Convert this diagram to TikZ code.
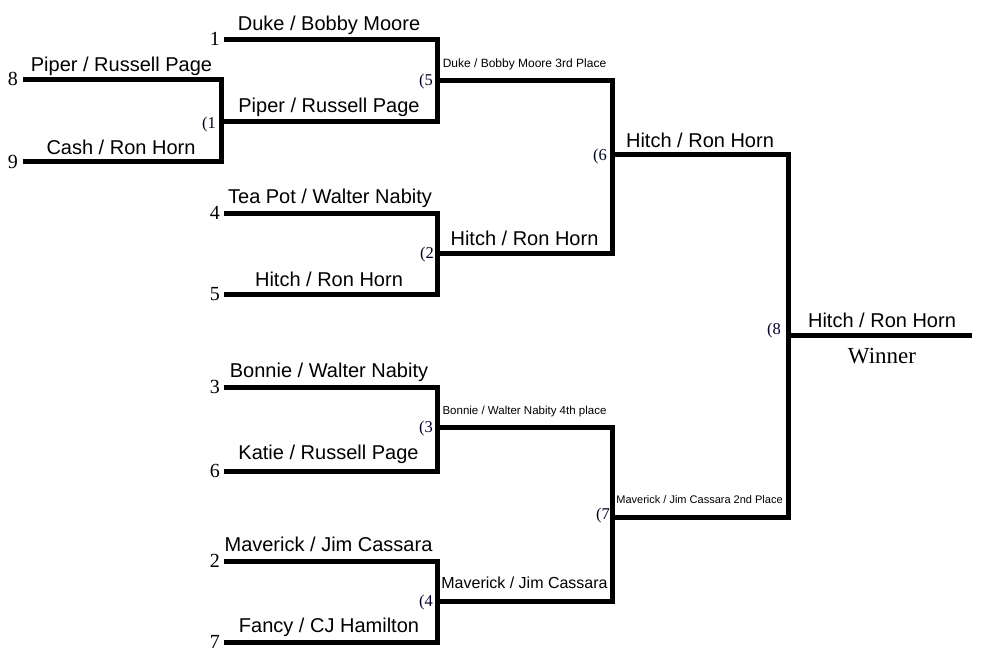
\documentclass[tikz,border=0pt]{standalone}
\usepackage{fontspec}
\setmainfont{Liberation Serif}
\newfontfamily\arialf{Liberation Sans}
\tikzset{
  br/.style={line width=5pt, line join=miter, line cap=butt},
  team/.style={inner sep=0pt, anchor=base, font=\arialf\fontsize{20}{24}\selectfont},
  teammid/.style={inner sep=0pt, anchor=base, font=\arialf\fontsize{16}{19}\selectfont},
  small/.style={inner sep=0pt, anchor=base, font=\arialf\fontsize{12}{14}\selectfont},
  seed/.style={inner sep=0pt, anchor=base east, font=\fontsize{20}{23}\selectfont},
  game/.style={inner sep=0pt, anchor=east, text=black!85!blue, font=\fontsize{16.5}{18}\selectfont},
  winlab/.style={inner sep=0pt, anchor=base, font=\fontsize{23}{27}\selectfont}
}
\begin{document}
\begin{tikzpicture}[x=1pt,y=-1pt]
\useasboundingbox (0,0) rectangle (988,666);
% seed line starts
\coordinate (s8) at (23,80);
\coordinate (s9) at (23,162);
\coordinate (s1) at (224,40);
\coordinate (s4) at (224,213);
\coordinate (s5) at (224,294);
\coordinate (s3) at (224,387);
\coordinate (s6) at (224,471);
\coordinate (s2) at (224,561);
\coordinate (s7) at (224,642);
% match outputs
\coordinate (m1) at (221,122);
\coordinate (m5) at (437,81);
\coordinate (m2) at (437,253);
\coordinate (m3) at (437,427);
\coordinate (m4) at (437,601);
\coordinate (m6) at (612,155);
\coordinate (m7) at (612,517);
\coordinate (m8) at (788,335);
\coordinate (fin) at (972,335);
% brackets
\draw[br] (s8) -- (221,80) -- (221,162) -- (s9);
\draw[br] (s1) -- (437,40) -- (437,122) -- (m1);
\draw[br] (s4) -- (437,213) -- (437,294) -- (s5);
\draw[br] (s3) -- (437,387) -- (437,471) -- (s6);
\draw[br] (s2) -- (437,561) -- (437,642) -- (s7);
\draw[br] (m5) -- (612,81) -- (612,253) -- (m2);
\draw[br] (m3) -- (612,427) -- (612,601) -- (m4);
\draw[br] (m6) -- (788,155) -- (788,517) -- (m7);
\draw[br] (m8) -- (fin);
% seed numbers
\node[seed] (n8) at (18,86) {8};
\node[seed] (n9) at (18,168) {9};
\node[seed] (n1) at (220,46) {1};
\node[seed] (n4) at (220,219) {4};
\node[seed] (n5) at (220,300) {5};
\node[seed] (n3) at (220,393) {3};
\node[seed] (n6) at (220,477) {6};
\node[seed] (n2) at (220,567) {2};
\node[seed] (n7) at (220,648) {7};
% game numbers
\node[game] (g1) at (216,125) {(1};
\node[game] (g5) at (433,82) {(5};
\node[game] (g2) at (434,254.5) {(2};
\node[game] (g3) at (433,429) {(3};
\node[game] (g4) at (433,603) {(4};
\node[game] (g6) at (607,157) {(6};
\node[game] (g7) at (610,516) {(7};
\node[game] (g8) at (781,331) {(8};
% team names
\node[team] (t8) at (121.5,72) {Piper / Russell Page};
\node[team] (t9) at (121,154) {Cash / Ron Horn};
\node[team] (t1) at (329,31) {Duke / Bobby Moore};
\node[team] (w1) at (329,113) {Piper / Russell Page};
\node[team] (t4) at (330,203) {Tea Pot / Walter Nabity};
\node[team] (t5) at (329,286) {Hitch / Ron Horn};
\node[team] (t3) at (329,377) {Bonnie / Walter Nabity};
\node[team] (t6) at (328.5,459) {Katie / Russell Page};
\node[team] (t2) at (328.5,551) {Maverick / Jim Cassara};
\node[team] (t7) at (329,632) {Fancy / CJ Hamilton};
\node[small] (w5) at (524.5,68) {Duke / Bobby Moore 3rd Place};
\node[team] (w2) at (524.5,245) {Hitch / Ron Horn};
\node[small, font=\arialf\fontsize{11.5}{14}\selectfont] (w3) at (524.5,414) {Bonnie / Walter Nabity 4th place};
\node[teammid] (w4) at (524.5,588) {Maverick / Jim Cassara};
\node[team] (w6) at (700,147) {Hitch / Ron Horn};
\node[small, font=\arialf\fontsize{11}{13}\selectfont] (w7) at (699.5,503) {Maverick / Jim Cassara 2nd Place};
\node[team] (w8) at (882,327) {Hitch / Ron Horn};
\node[winlab] (win) at (882,363) {Winner};
\end{tikzpicture}
\end{document}
